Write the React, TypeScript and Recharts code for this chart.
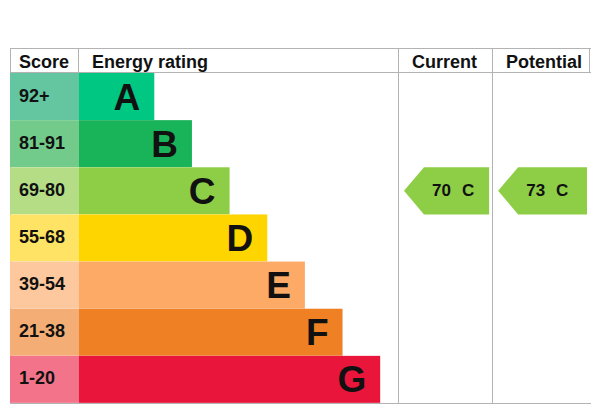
import { ComposedChart, Bar, XAxis, YAxis, ReferenceArea } from "recharts";

const bands = ["A", "B", "C", "D", "E", "F", "G"];
const scoreRanges = ["92+", "81-91", "69-80", "55-68", "39-54", "21-38", "1-20"];
const bandColors = ["#00c781", "#19b459", "#8dce46", "#ffd500", "#fcaa65", "#ef8023", "#e9153b"];
const scoreColors = ["#63c6a0", "#72cb8b", "#b4dd86", "#ffe364", "#fdc89d", "#f4ad75", "#f3748a"];
const current = { score: 70, band: "C" };
const potential = { score: 73, band: "C" };

const rows = bands.map((band, i) => ({ band, score: scoreRanges[i], length: i + 2 }));

const W = 581;
const H = 356;
const LINE = "#b3b3b3";
const FONT = "'Liberation Sans', Arial, sans-serif";

function BandBar(props: any) {
  const { x, y, width, height, index } = props;
  const cy = y + height / 2;
  return (
    <g>
      <rect x={x - 69} y={y} width={69} height={height} fill={scoreColors[index]} />
      <text x={x - 60} y={cy + 5} fontSize={18} fontWeight="bold" fontFamily={FONT} fill="#111">
        {scoreRanges[index]}
      </text>
      <rect x={x} y={y} width={width} height={height} fill={bandColors[index]} />
      <text x={x + width - 14} y={cy + 13} fontSize={37} fontWeight="bold" fontFamily={FONT} fill="#111" textAnchor="end">
        {bands[index]}
      </text>
    </g>
  );
}

function Arrow(props: any) {
  const { x, y, width, height, score, band } = props;
  const left = x + 5;
  const right = x + width - 4;
  const cy = y + height / 2;
  const pts = `${left},${cy} ${left + 20},${y} ${right},${y} ${right},${y + height} ${left + 20},${y + height}`;
  const color = bandColors[bands.indexOf(band)];
  return (
    <g>
      <polygon points={pts} fill={color} />
      <text x={left + 47} y={cy + 5} fontSize={17} fontWeight="bold" fontFamily={FONT} fill="#111" textAnchor="end">
        {score}
      </text>
      <text x={left + 58} y={cy + 5} fontSize={17} fontWeight="bold" fontFamily={FONT} fill="#111">
        {band}
      </text>
    </g>
  );
}

export default function App() {
  return (
    <div style={{ position: "absolute", left: 10, top: 48, width: W, height: H }}>
      <svg width={W} height={H} style={{ position: "absolute", left: 0, top: 0 }}>
        <line x1={0} x2={W} y1={0.5} y2={0.5} stroke={LINE} />
        <line x1={0} x2={W} y1={24.5} y2={24.5} stroke={LINE} />
        <line x1={0} x2={W} y1={355.5} y2={355.5} stroke={LINE} />
        <line x1={0.5} x2={0.5} y1={0} y2={356} stroke={LINE} />
        <line x1={68.5} x2={68.5} y1={0} y2={25} stroke={LINE} />
        <line x1={388.5} x2={388.5} y1={0} y2={356} stroke={LINE} />
        <line x1={482.5} x2={482.5} y1={0} y2={356} stroke={LINE} />
        <line x1={579.5} x2={579.5} y1={0} y2={25} stroke={LINE} />
        <g fontFamily={FONT} fontSize={18} fontWeight="bold" fill="#111">
          <text x={9} y={19.5}>Score</text>
          <text x={82} y={19.5}>Energy rating</text>
          <text x={402} y={19.5}>Current</text>
          <text x={496} y={19.5}>Potential</text>
        </g>
      </svg>
      <div style={{ position: "absolute", left: 0, top: 0 }}>
        <ComposedChart
          width={W}
          height={H}
          layout="vertical"
          data={rows}
          margin={{ top: 25, right: 0, bottom: 1, left: 69 }}
          barCategoryGap={0}
        >
          <XAxis type="number" domain={[0, 13.6]} hide />
          <YAxis type="category" dataKey="band" hide />
          <Bar dataKey="length" isAnimationActive={false} shape={(p: any) => <BandBar {...p} />} />
          <ReferenceArea
            x1={8.5}
            x2={11}
            y1={current.band}
            y2={current.band}
            ifOverflow="visible"
            shape={(p: any) => <Arrow {...p} score={current.score} band={current.band} />}
          />
          <ReferenceArea
            x1={11}
            x2={13.6}
            y1={potential.band}
            y2={potential.band}
            ifOverflow="visible"
            shape={(p: any) => <Arrow {...p} score={potential.score} band={potential.band} />}
          />
        </ComposedChart>
      </div>
    </div>
  );
}
